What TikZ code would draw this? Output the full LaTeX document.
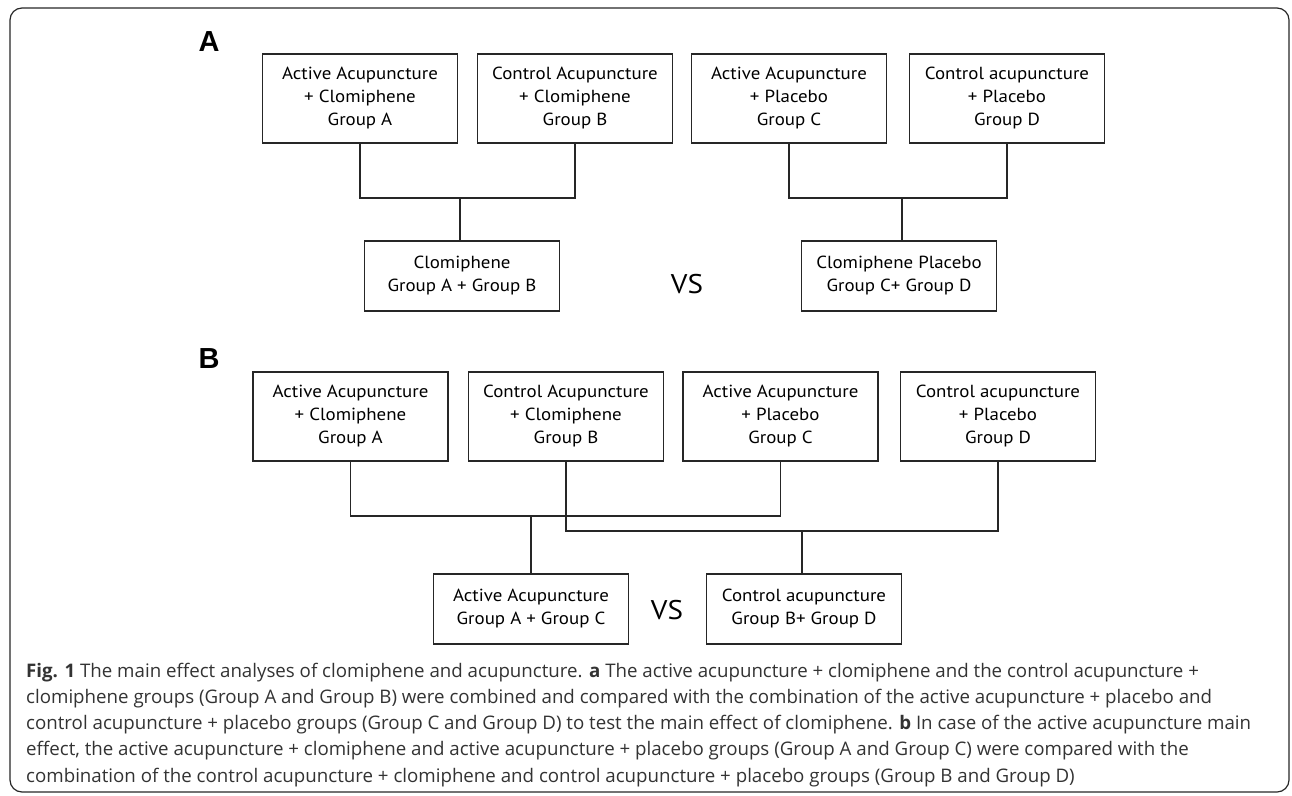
\documentclass[tikz,border=0pt]{standalone}
\usepackage{fontspec}
\newfontfamily\boxfont[FakeStretch=1.08]{PT Sans}
\newfontfamily\capfont{Open Sans}
\newfontfamily\labfont{Liberation Sans}
\begin{document}
\begin{tikzpicture}[x=1pt,y=-1pt,
  gbox/.style={draw=black!85, line width=1.3pt, minimum width=195pt, minimum height=89pt,
    align=center, inner sep=0pt, font=\boxfont\fontsize{17.5}{23}\selectfont},
  sbox/.style={gbox, minimum height=70pt},
  conn/.style={draw=black!85, line width=1.2pt},
  plabel/.style={font=\labfont\bfseries\fontsize{29}{30}\selectfont},
  vslabel/.style={font=\boxfont\fontsize{27}{30}\selectfont},
  capline/.style={anchor=base west, inner sep=0pt, text=black!80, font=\capfont\fontsize{18.7}{26}\selectfont}]
\useasboundingbox (0,0) rectangle (1292,795);
\draw[draw=black!85, line width=1.2pt, rounded corners=12pt] (10,8) rectangle (1289,792);

% Panel A
\node[plabel] (LA) at (209,42) {A};
\node[gbox] (A1) at (360,98.5) {Active Acupuncture\\+ Clomiphene\\Group A};
\node[gbox] (A2) at (575,98.5) {Control Acupuncture\\+ Clomiphene\\Group B};
\node[gbox] (A3) at (789,98.5) {Active Acupuncture\\+ Placebo\\Group C};
\node[gbox] (A4) at (1007,98.5) {Control acupuncture\\+ Placebo\\Group D};
\node[sbox] (A5) at (462,276) {Clomiphene\\Group A + Group B};
\node[sbox] (A6) at (899,276) {Clomiphene Placebo\\Group C+ Group D};
\node[vslabel] (VA) at (687,284) {VS};
\coordinate (ja) at (460,198);
\coordinate (jb) at (902,198);
\draw[conn] (A1.south) |- (ja) -| (A2.south);
\draw[conn] (ja) -- (ja |- A5.north);
\draw[conn] (A3.south) |- (jb) -| (A4.south);
\draw[conn] (jb) -- (jb |- A6.north);

% Panel B
\node[plabel] (LB) at (209,359) {B};
\node[gbox] (B1) at (350.5,416.5) {Active Acupuncture\\+ Clomiphene\\Group A};
\node[gbox] (B2) at (566,416.5) {Control Acupuncture\\+ Clomiphene\\Group B};
\node[gbox] (B3) at (780.5,416.5) {Active Acupuncture\\+ Placebo\\Group C};
\node[gbox] (B4) at (998,416.5) {Control acupuncture\\+ Placebo\\Group D};
\node[sbox] (B5) at (531,609) {Active Acupuncture\\Group A + Group C};
\node[sbox] (B6) at (804,609) {Control acupuncture\\Group B+ Group D};
\node[vslabel] (VB) at (667,610) {VS};
\coordinate (jc) at (531,516);
\coordinate (jd) at (802,531);
\draw[conn] (B1.south) |- (jc) -| (B3.south);
\draw[conn] (jc) -- (jc |- B5.north);
\draw[conn] (B2.south) |- (jd) -| (B4.south);
\draw[conn] (jd) -- (jd |- B6.north);

% Caption
\node[capline] (cap1) at (26,677) {\textbf{Fig. 1} The main effect analyses of clomiphene and acupuncture. \textbf{a} The active acupuncture + clomiphene and the control acupuncture +};
\node[capline] (cap2) at (26,703.3) {clomiphene groups (Group A and Group B) were combined and compared with the combination of the active acupuncture + placebo and};
\node[capline] (cap3) at (26,729.6) {control acupuncture + placebo groups (Group C and Group D) to test the main effect of clomiphene. \textbf{b} In case of the active acupuncture main};
\node[capline] (cap4) at (26,755.9) {effect, the active acupuncture + clomiphene and active acupuncture + placebo groups (Group A and Group C) were compared with the};
\node[capline] (cap5) at (26,782.2) {combination of the control acupuncture + clomiphene and control acupuncture + placebo groups (Group B and Group D)};
\end{tikzpicture}
\end{document}
